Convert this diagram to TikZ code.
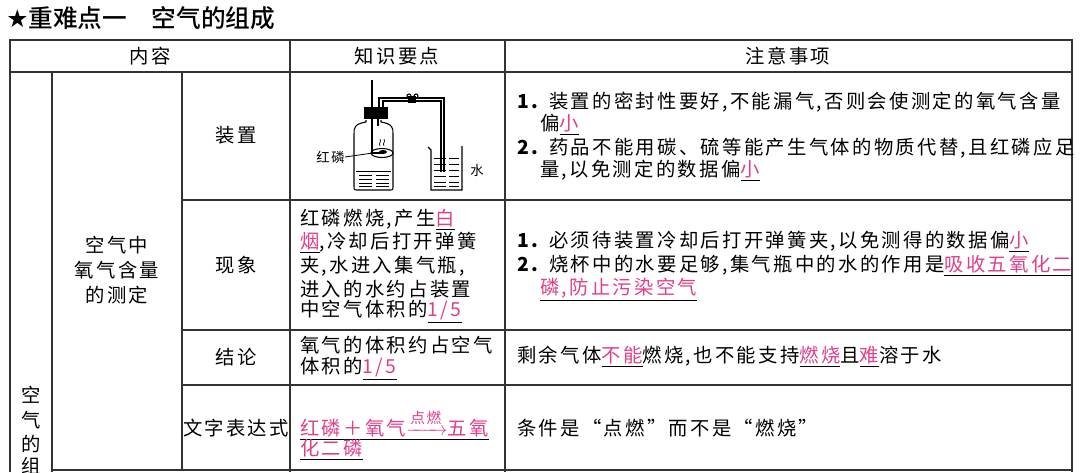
\documentclass[tikz,border=0pt]{standalone}
\usepackage{fontspec}
\usepackage{amsmath}
\setmainfont{Noto Sans CJK SC}[LetterSpace=12]
\newfontfamily\titlefont{Noto Sans CJK SC Medium}
\newfontfamily\dvs{DejaVu Sans}
\definecolor{mag}{HTML}{E0408A}
\definecolor{ln}{HTML}{333333}
\newcommand{\ans}[1]{\underline{\textcolor{mag}{#1}}}
\tikzset{
  tx/.style={anchor=west,inner sep=0pt,font=\fontsize{14.5}{16}\selectfont},
  cx/.style={anchor=center,inner sep=0pt,font=\fontsize{14.5}{16}\selectfont},
  grid/.style={draw=ln,line width=0.9pt},
  app/.style={draw=black,line width=0.8pt}
}
\begin{document}
\begin{tikzpicture}[x=0.75pt,y=-0.75pt]
\useasboundingbox[fill=white] (0,0) rectangle (1080,472);
% title
\node[anchor=west,inner sep=0pt,font=\fontsize{18.5}{20}\selectfont] (title) at (6,18) {{\dvs ★}\titlefont 重难点一\quad 空气的组成};
% grid
\draw[grid,line width=1.2pt] (10,472) -- (10,40) -- (1072,40) -- (1072,472);
\draw[grid] (10,72) -- (1072,72);
\draw[grid] (290,40) -- (290,472);
\draw[grid] (505,40) -- (505,472);
\draw[grid] (52,72) -- (52,472);
\draw[grid] (182,72) -- (182,470);
\draw[grid] (182,200) -- (1072,200);
\draw[grid] (182,330) -- (1072,330);
\draw[grid] (182,385) -- (1072,385);
\draw[grid] (52,470) -- (1072,470);
% header
\node[cx] (h1) at (150,56) {内容};
\node[cx] (h2) at (397,56) {知识要点};
\node[cx] (h3) at (788,56) {注意事项};
% col1
\node[cx] (c1a) at (31,395) {空};
\node[cx] (c1b) at (31,420) {气};
\node[cx] (c1c) at (31,444) {的};
\node[cx] (c1d) at (31,466) {组};
% col2
\node[cx] (c2a) at (117,245) {空气中};
\node[cx] (c2b) at (117,270) {氧气含量};
\node[cx] (c2c) at (117,295) {的测定};
% col3
\node[cx] (r1) at (236,135) {装置};
\node[cx] (r2) at (236,265) {现象};
\node[cx] (r3) at (236,357) {结论};
\node[cx] (r4) at (236,428) {文字表达式};
% phenomena
\node[tx] (p1) at (300,220) {红磷燃烧,产生\ans{白}};
\node[tx] (p2) at (300,243) {\ans{烟},冷却后打开弹簧};
\node[tx] (p3) at (300,266) {夹,水进入集气瓶,};
\node[tx] (p4) at (300,289) {进入的水约占装置};
\node[tx] (p5) at (300,312) {中空气体积的\ans{1/5}};
\node[tx] (q1) at (300,345) {氧气的体积约占空气};
\node[tx] (q2) at (300,369) {体积的\ans{1/5}};
\node[tx] (e1) at (300,425) {\ans{红磷＋氧气$\xrightarrow{\raisebox{1pt}{\textcolor{mag}{\fontsize{11}{12}\selectfont 点燃}}}$五氧}};
\node[tx] (e2) at (300,450) {\ans{化二磷}};
% notes
\node[tx] (n1) at (517,102) {\textbf{1.} 装置的密封性要好,不能漏气,否则会使测定的氧气含量};
\node[tx] (n2) at (540,125) {偏\ans{小}};
\node[tx] (n3) at (517,148) {\textbf{2.} 药品不能用碳、硫等能产生气体的物质代替,且红磷应足};
\node[tx] (n4) at (540,171) {量,以免测定的数据偏\ans{小}};
\node[tx] (m1) at (517,242) {\textbf{1.} 必须待装置冷却后打开弹簧夹,以免测得的数据偏\ans{小}};
\node[tx] (m2) at (517,266) {\textbf{2.} 烧杯中的水要足够,集气瓶中的水的作用是\ans{吸收五氧化二}};
\node[tx] (m3) at (540,290) {\ans{磷,防止污染空气}};
\node[tx] (k1) at (517,357) {剩余气体\ans{不能}燃烧,也不能支持\ans{燃烧}且\ans{难}溶于水};
\node[tx] (k2) at (517,428) {条件是“点燃”而不是“燃烧”};
% apparatus
\draw[app] (366,120) -- (366,122) .. controls (354,124) and (354,128) .. (354,134) -- (354,186) .. controls (354,190) .. (358,190) -- (389,190) .. controls (393,190) .. (393,186) -- (393,134) .. controls (393,128) and (393,124) .. (381,122) -- (381,120);
\fill[black] (364,107) rectangle (388,119);
\draw[app] (372,80) -- (372,153);
\draw[app] (372,153) -- (382,153);
\draw[app] (382,153) ellipse (11 and 4.5);
\fill[black] (383,152) ellipse (4 and 2);
\draw[app,line width=0.5pt] (380,146) .. controls (378,143) and (382,142) .. (380,139);
\draw[app,line width=0.5pt] (384,146) .. controls (382,143) and (386,142) .. (384,139);
\draw[app] (378,119) -- (378,126);
\draw[app] (379,107) -- (379,98) -- (444,98) -- (444,172);
\draw[app] (383,107) -- (383,101) -- (441,101) -- (441,172);
\fill[black] (408,96) rectangle (416,103);
\draw[app] (409,96) circle (2);
\draw[app] (416,96) circle (2);
\draw[app] (428,147) -- (431,150) -- (431,190) -- (462,190) -- (462,146);
\foreach \yy in {158,164,170,176,182,186}{
  \draw[line width=0.6pt] (434,\yy) -- (446,\yy); \draw[line width=0.6pt] (449,\yy) -- (459,\yy);
}
\foreach \yy in {175,179,183,186}{
  \draw[line width=0.6pt] (359,\yy) -- (372,\yy); \draw[line width=0.6pt] (376,\yy) -- (389,\yy);
}
\draw[line width=0.6pt] (356,171) -- (391,171);
\node[anchor=east,inner sep=0pt,font=\fontsize{10}{12}\selectfont] (lbl1) at (345,157) {红磷};
\draw[line width=0.6pt] (lbl1.east) -- (373,153);
\node[anchor=west,inner sep=0pt,font=\fontsize{10}{12}\selectfont] (lbl2) at (470,170) {水};
\end{tikzpicture}
\end{document}
